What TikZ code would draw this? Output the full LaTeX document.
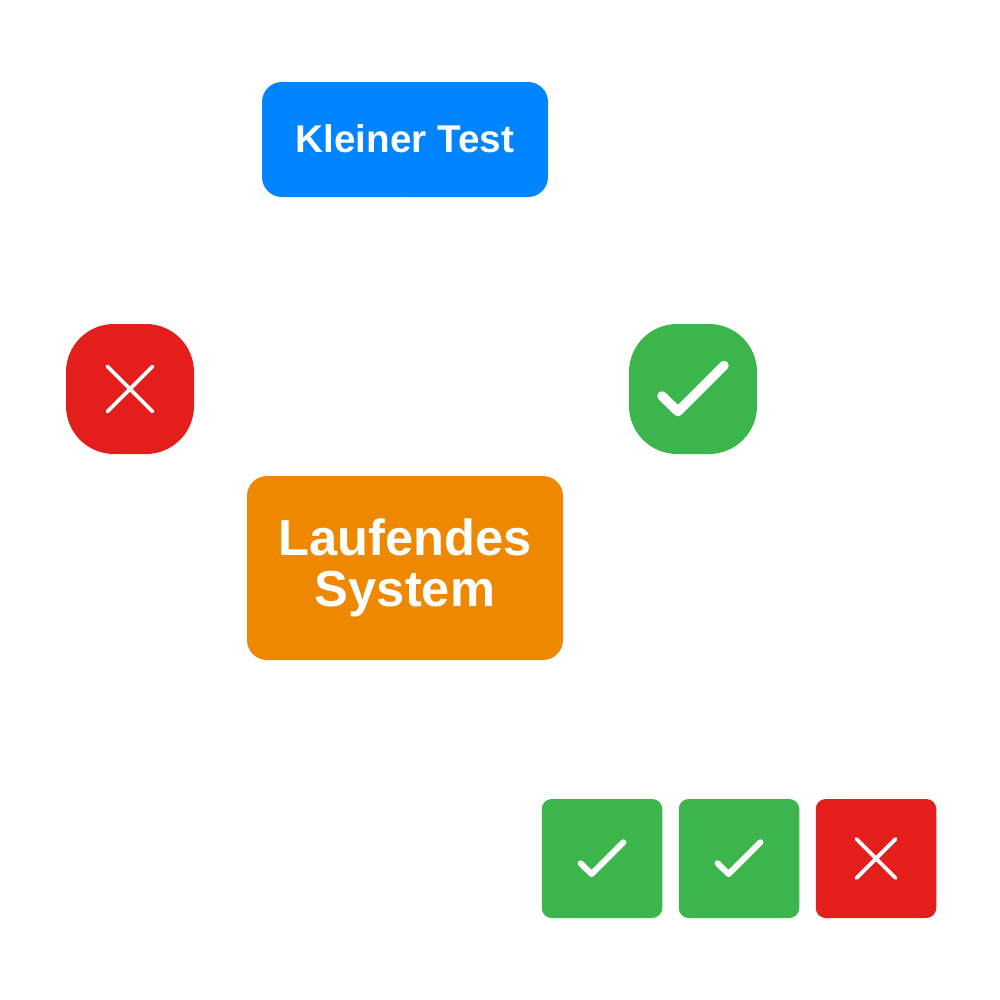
\documentclass[tikz,border=0pt]{standalone}
\usepackage{fontspec}
\setmainfont{Liberation Sans}
\usetikzlibrary{calc}
\usetikzlibrary{positioning}
\definecolor{testblue}{HTML}{0084FF}
\definecolor{runorange}{HTML}{EE8800}
\definecolor{failred}{HTML}{E31E1B}
\definecolor{passgreen}{HTML}{3CB54C}
\definecolor{faintwhite}{HTML}{FDFDFD}
\tikzset{
  label_box/.style={inner sep=0pt, outer sep=0pt, rounded corners=0.4cm, text=white, align=center, font=\bfseries},
  icon_box/.style={inner sep=0pt, outer sep=0pt, minimum width=2.56cm, minimum height=2.6cm, rounded corners=0.96cm},
  result_box/.style={inner sep=0pt, outer sep=0pt, minimum width=2.41cm, minimum height=2.38cm, rounded corners=0.2cm},
  faint_line/.style={draw=faintwhite, line width=0.6pt, ->},
}
% tick and cross inside a named node, #2 is the size and #3 the line width
\newcommand{\tickin}[3]{\draw[white, line width=#3, line cap=round, line join=round] ($(#1)+(-#2*0.62,-#2*0.14)$) -- ($(#1)+(-#2*0.30,-#2*0.45)$) -- ($(#1)+(#2*0.62,#2*0.47)$);}
\newcommand{\crossin}[3]{\draw[white, line width=#3, line cap=round] ($(#1)+(-#2,#2)$) -- ($(#1)+(#2,-#2)$) ($(#1)+(-#2,-#2)$) -- ($(#1)+(#2,#2)$);}

\begin{document}
\begin{tikzpicture}[node distance=0.33cm]
  \useasboundingbox (0,0) rectangle (20,-20);

  \node[label_box, fill=testblue, minimum width=5.72cm, minimum height=2.3cm, font=\bfseries\fontsize{22}{24}\selectfont] (test) at (8.1,-2.79) {\raisebox{1pt}{Kleiner Test}};
  \node[label_box, fill=runorange, minimum width=6.32cm, minimum height=3.68cm, font=\bfseries\fontsize{28.8}{29.8}\selectfont] (system) at (8.1,-11.36) {\raisebox{-1pt}{Laufendes}\\System};

  \node[icon_box, fill=failred] (fail) at (2.6,-7.78) {};
  \node[icon_box, fill=passgreen] (pass) at (13.86,-7.78) {};
  \crossin{fail}{0.45}{2.2pt}
  \tickin{pass}{1}{5.4pt}

  \node[result_box, fill=passgreen] (ok1) at (12.04,-17.17) {};
  \node[result_box, fill=passgreen, right=of ok1] (ok2) {};
  \node[result_box, fill=failred, right=of ok2] (bad) {};
  \tickin{ok1}{0.69}{3.4pt}
  \tickin{ok2}{0.69}{3.4pt}
  \crossin{bad}{0.39}{2.2pt}

  % barely visible connectors
  \coordinate (run_tip) at (8.16,-14.0);
  \coordinate (run_foot) at (9.0,-17.2);
  \draw[faint_line] (run_foot) to[out=135,in=270] (8.16,-16.1) -- (run_tip);
  \draw[faint_line] (test.south) to[out=250,in=20] (fail.east);
  \draw[faint_line] (test.south) to[out=290,in=160] (pass.west);
\end{tikzpicture}
\end{document}
